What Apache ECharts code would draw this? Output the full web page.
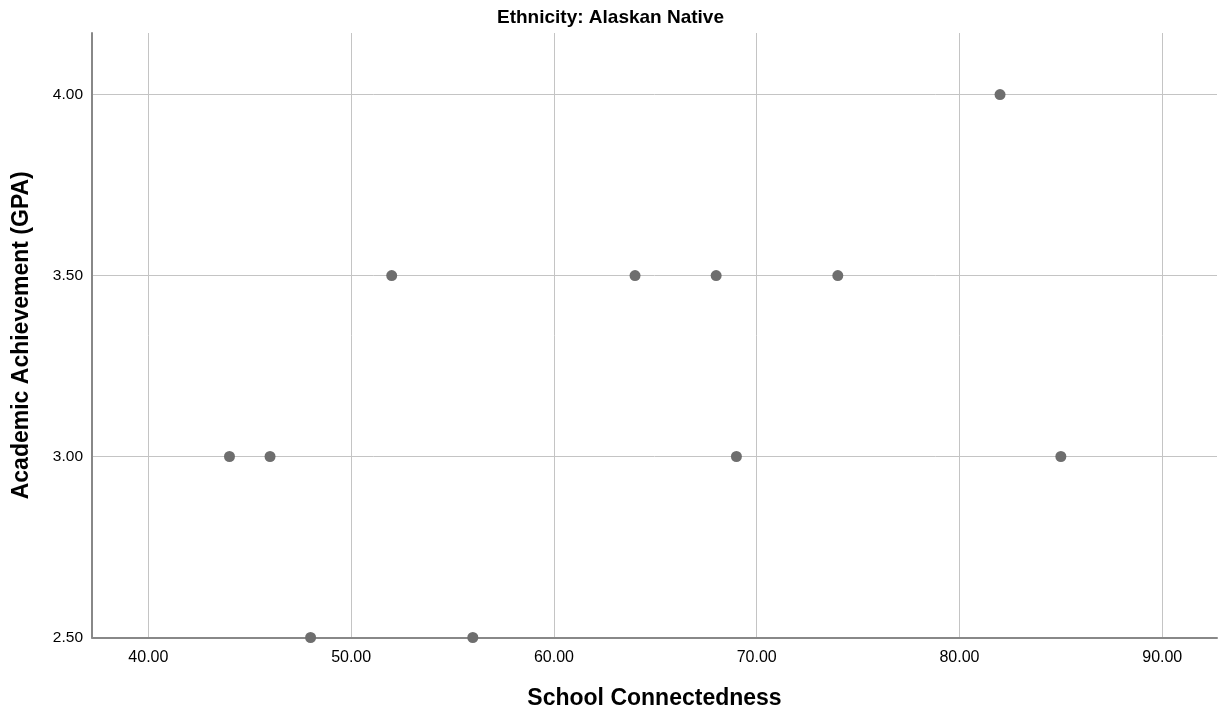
<!DOCTYPE html>
<html><head><meta charset="utf-8">
<script src="https://cdn.jsdelivr.net/npm/echarts@6/dist/echarts.min.js"></script>
<style>html,body{margin:0;padding:0;background:#fff;overflow:hidden}#c{width:1221px;height:710px}</style>
</head><body><div id="c"></div>
<script>
const chartTitle = "Ethnicity: Alaskan Native";
const xName = "School Connectedness";
const yName = "Academic Achievement (GPA)";
const connectedness = [44, 46, 48, 52, 56, 64, 68, 69, 74, 82, 85];
const gpa = [3.0, 3.0, 2.5, 3.5, 2.5, 3.5, 3.5, 3.0, 3.5, 4.0, 3.0];
const xTicks = [40, 50, 60, 70, 80, 90];
const yTicks = [2.5, 3.0, 3.5, 4.0];

const chart = echarts.init(document.getElementById('c'));
const font = 'Arial, "Liberation Sans", sans-serif';
chart.setOption({
  animation: false,
  title: { text: chartTitle, left: 'center', top: 3,
    textStyle: { fontFamily: font, fontSize: 19, fontWeight: 'bold', color: '#000' } },
  grid: { left: 92, right: 4, top: 33, bottom: 72.5, containLabel: false, outerBoundsMode: 'none' },
  xAxis: {
    type: 'value', min: 37.22, max: 92.7,
    name: xName, nameLocation: 'middle', nameGap: 50,
    nameTextStyle: { fontFamily: font, fontSize: 23, fontWeight: 'bold', color: '#000' },
    axisLine: { show: true, lineStyle: { color: '#888', width: 2 } },
    axisTick: { show: false, customValues: xTicks },
    splitLine: { show: true, lineStyle: { color: '#c4c4c4', width: 1 } },
    axisLabel: {
      fontFamily: font, fontSize: 16, color: '#000', margin: 12,
      customValues: xTicks,
      formatter: v => v.toFixed(2)
    }
  },
  yAxis: {
    type: 'value', min: 2.5, max: 4.17,
    name: yName, nameLocation: 'middle', nameGap: 59, nameRotate: 90,
    nameTextStyle: { fontFamily: font, fontSize: 23, fontWeight: 'bold', color: '#000' },
    axisLine: { show: true, lineStyle: { color: '#888', width: 2 } },
    axisTick: { show: false, customValues: yTicks },
    splitLine: { show: true, lineStyle: { color: '#c4c4c4', width: 1 } },
    axisLabel: {
      fontFamily: font, fontSize: 15.5, color: '#000', margin: 9,
      customValues: yTicks,
      formatter: v => v.toFixed(2)
    }
  },
  series: [{
    type: 'scatter',
    data: connectedness.map((x, i) => [x, gpa[i]]),
    symbolSize: 11,
    itemStyle: { color: '#6e6e6e', opacity: 1 },
    clip: false
  }]
});
</script></body></html>
